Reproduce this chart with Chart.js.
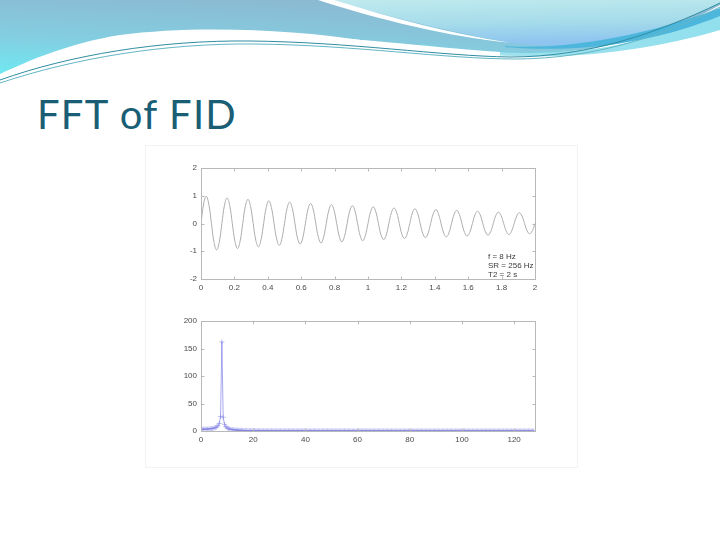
<!DOCTYPE html>
<html>
<head>
<meta charset="utf-8">
<script src="https://cdn.jsdelivr.net/npm/chart.js@4/dist/chart.umd.min.js"></script>
<style>
  html,body{margin:0;padding:0;background:#ffffff;}
  #slide{position:relative;width:720px;height:540px;overflow:hidden;background:#ffffff;}
  #title{position:absolute;left:37px;top:94px;font-family:Lato,"Open Sans",sans-serif;font-size:40px;line-height:40px;letter-spacing:1.2px;color:#195e74;white-space:nowrap;}
  #figbox{position:absolute;left:145px;top:145px;width:431px;height:321px;background:#ffffff;border:1px solid #f3f3f3;}
  canvas{position:absolute;}
</style>
</head>
<body>
<div id="slide">
  <svg width="720" height="100" style="position:absolute;left:0;top:0">
    <defs>
      <linearGradient id="gMain" x1="0" y1="1" x2="0.45" y2="0">
        <stop offset="0" stop-color="#6fe8f0"/>
        <stop offset="0.45" stop-color="#84cde0"/>
        <stop offset="1" stop-color="#8bb9d2"/>
      </linearGradient>
      <linearGradient id="gCap" x1="0" y1="0" x2="0.15" y2="1">
        <stop offset="0" stop-color="#bfeaee"/>
        <stop offset="0.55" stop-color="#a6dcea"/>
        <stop offset="1" stop-color="#8ec4ef"/>
      </linearGradient>
      <linearGradient id="gLow" x1="0" y1="0" x2="1" y2="0">
        <stop offset="0" stop-color="#7fd6e6"/>
        <stop offset="1" stop-color="#62d2e6"/>
      </linearGradient>
    </defs>
    <path d="M0,0 H720 V5 C680,28 620,48 560,52 C500,56 420,48 330,36 C260,28 180,27 120,35 C70,43 30,60 0,74 Z" fill="url(#gMain)"/>
    <path d="M420,44 C480,52 540,56 600,48 C650,40 690,24 720,12 L720,30 C680,42 620,54 560,56 C500,58 450,52 420,48 Z" fill="url(#gLow)" opacity="0.7"/>
    <path d="M0,79 C60,56 130,40 220,37 C320,35 420,50 500,55" fill="none" stroke="#ffffff" stroke-width="6"/>
    <path d="M330,0 H720 V3 C690,18 640,38 580,44 C545,47 522,45 506,42 C440,30 380,14 330,0 Z" fill="url(#gCap)"/>
    <path d="M318,0 H334 C392,18 452,34 512,43 C450,37 380,20 318,0 Z" fill="#ffffff"/>
    <path d="M505,46 C560,50 640,38 720,8 L720,16 C660,40 590,54 505,47 Z" fill="#4db6dc"/>
    <path d="M0,80 C70,55 160,40 250,41 C350,42 440,56 510,57 C590,57 660,32 720,3" fill="none" stroke="#2f8da0" stroke-width="1"/>
    <path d="M0,83 C75,58 165,43 255,44 C355,45 445,59 515,59 C595,59 665,35 720,7" fill="none" stroke="#63b6c4" stroke-width="1"/>
  </svg>
  <div id="title">FFT of FID</div>
  <div id="figbox"></div>
  <canvas id="c1" width="420" height="150" style="left:145px;top:150px;width:420px;height:150px"></canvas>
  <canvas id="c2" width="420" height="150" style="left:145px;top:305px;width:420px;height:150px"></canvas>
</div>
<script>
// ---- Data ----
// Top: decaying FID signal, sampled every 1/64 s from 0 to 2 s
const fidStepSeconds = 1 / 64;
const fidSignal = [
  0, 0.70, 0.98, 0.69, 0, -0.68, -0.95, -0.67,
  0, 0.66, 0.92, 0.65, 0, -0.64, -0.90, -0.63,
  0, 0.62, 0.87, 0.61, 0, -0.60, -0.84, -0.59,
  0, 0.58, 0.82, 0.57, 0, -0.56, -0.79, -0.55,
  0, 0.55, 0.77, 0.54, 0, -0.53, -0.74, -0.52,
  0, 0.51, 0.72, 0.51, 0, -0.50, -0.70, -0.49,
  0, 0.48, 0.68, 0.47, 0, -0.47, -0.66, -0.46,
  0, 0.45, 0.64, 0.45, 0, -0.44, -0.62, -0.43,
  0, 0.43, 0.60, 0.42, 0, -0.41, -0.58, -0.41,
  0, 0.40, 0.56, 0.39, 0, -0.39, -0.54, -0.38,
  0, 0.38, 0.53, 0.37, 0, -0.36, -0.51, -0.36,
  0, 0.35, 0.50, 0.35, 0, -0.34, -0.48, -0.34,
  0, 0.33, 0.47, 0.33, 0, -0.32, -0.45, -0.32,
  0, 0.31, 0.44, 0.31, 0, -0.30, -0.42, -0.30,
  0, 0.29, 0.41, 0.29, 0, -0.28, -0.40, -0.28,
  0, 0.27, 0.39, 0.27, 0, -0.27, -0.37, -0.26,
  0
];
// Bottom: FFT magnitude, bins every 0.5 Hz from 0 to 127.5 Hz
const fftBinHz = 0.5;
const fftMagnitude = [
  3.2, 3.2, 3.3, 3.3, 3.4, 3.6, 3.7, 4.0,
  4.3, 4.7, 5.3, 6.1, 7.4, 9.5, 13.7, 26.3,
  162, 25.0, 12.1, 7.9, 5.7, 4.5, 3.6, 3.0,
  2.6, 2.2, 2.0, 1.75, 1.57, 1.42, 1.29, 1.18,
  1.08, 1.00, 0.93, 0.86, 0.80, 0.75, 0.70, 0.66,
  0.62, 0.59, 0.56, 0.53, 0.50, 0.48, 0.46, 0.44,
  0.41, 0.40, 0.38, 0.37, 0.35, 0.34, 0.33, 0.31,
  0.30, 0.29, 0.28, 0.27, 0.26, 0.25, 0.24, 0.24,
  0.23, 0.22, 0.21, 0.21, 0.20, 0.20, 0.19, 0.19,
  0.18, 0.18, 0.17, 0.17, 0.16, 0.16, 0.15, 0.15,
  0.15, 0.14, 0.14, 0.14, 0.13, 0.13, 0.13, 0.12,
  0.12, 0.12, 0.12, 0.11, 0.11, 0.11, 0.11, 0.10,
  0.10, 0.10, 0.10, 0.10, 0.09, 0.09, 0.09, 0.09,
  0.09, 0.09, 0.08, 0.08, 0.08, 0.08, 0.08, 0.08,
  0.08, 0.08, 0.08, 0.08, 0.07, 0.07, 0.07, 0.07,
  0.07, 0.07, 0.07, 0.07, 0.07, 0.07, 0.07, 0.07,
  0.06, 0.06, 0.06, 0.06, 0.06, 0.06, 0.06, 0.06,
  0.06, 0.06, 0.06, 0.06, 0.06, 0.06, 0.06, 0.06,
  0.05, 0.05, 0.05, 0.05, 0.05, 0.05, 0.05, 0.05,
  0.05, 0.05, 0.05, 0.05, 0.05, 0.05, 0.05, 0.05,
  0.05, 0.05, 0.05, 0.05, 0.05, 0.05, 0.05, 0.05,
  0.04, 0.04, 0.04, 0.04, 0.04, 0.04, 0.04, 0.04,
  0.04, 0.04, 0.04, 0.04, 0.04, 0.04, 0.04, 0.04,
  0.04, 0.04, 0.04, 0.04, 0.04, 0.04, 0.04, 0.04,
  0.04, 0.04, 0.04, 0.04, 0.04, 0.04, 0.04, 0.04,
  0.04, 0.04, 0.04, 0.04, 0.04, 0.04, 0.04, 0.04,
  0.03, 0.03, 0.03, 0.03, 0.03, 0.03, 0.03, 0.03,
  0.03, 0.03, 0.03, 0.03, 0.03, 0.03, 0.03, 0.03,
  0.03, 0.03, 0.03, 0.03, 0.03, 0.03, 0.03, 0.03,
  0.03, 0.03, 0.03, 0.03, 0.03, 0.03, 0.03, 0.03,
  0.03, 0.03, 0.03, 0.03, 0.03, 0.03, 0.03, 0.03,
  0.03, 0.03, 0.03, 0.03, 0.03, 0.03, 0.03, 0.03
];
const fidNotes = ["f = 8 Hz", "SR = 256 Hz", "T2 = 2 s"];

// ---- Build points from the arrays ----
const fidPoints = fidSignal.map((v, i) => ({ x: i * fidStepSeconds, y: v }));
const fftPoints = fftMagnitude.map((v, i) => ({ x: i * fftBinHz, y: v }));

const tickFont = { family: "'Liberation Sans', Arial, sans-serif", size: 8 };
const tickColor = '#4a4a4a';

// Matlab-like box with inward tick marks + optional text notes
const matlabAxes = {
  id: 'matlabAxes',
  afterDatasetsDraw(chart, args, opts) {
    const { ctx, chartArea: a, scales } = chart;
    const xs = scales.x, ys = scales.y;
    ctx.save();
    ctx.strokeStyle = opts.color || '#b0b0b0';
    ctx.lineWidth = 1;
    const L = Math.round(a.left) + 0.5, R = Math.round(a.right) + 0.5;
    const T = Math.round(a.top) + 0.5, B = Math.round(a.bottom) + 0.5;
    ctx.strokeRect(L, T, R - L, B - T);
    const len = 3;
    ctx.beginPath();
    xs.ticks.forEach(t => {
      const p = Math.round(xs.getPixelForValue(t.value)) + 0.5;
      ctx.moveTo(p, B); ctx.lineTo(p, B - len);
      ctx.moveTo(p, T); ctx.lineTo(p, T + len);
    });
    ys.ticks.forEach(t => {
      const p = Math.round(ys.getPixelForValue(t.value)) + 0.5;
      ctx.moveTo(L, p); ctx.lineTo(L + len, p);
      ctx.moveTo(R, p); ctx.lineTo(R - len, p);
    });
    ctx.stroke();
    if (opts.notes) {
      ctx.fillStyle = '#3a3a3a';
      ctx.font = "8px 'Liberation Sans', Arial, sans-serif";
      ctx.textBaseline = 'middle';
      ctx.textAlign = 'left';
      opts.notes.forEach((s, i) => {
        ctx.fillText(s, a.left + 287, a.top + 89 + i * 9);
      });
    }
    ctx.restore();
  }
};

function baseOptions(xMin, xMax, xStep, yMin, yMax, yStep, xHeight, padTop, notes) {
  return {
    responsive: false,
    animation: false,
    devicePixelRatio: 1,
    layout: { padding: { left: 0, right: 30, top: padTop, bottom: 0 } },
    plugins: {
      legend: { display: false },
      tooltip: { enabled: false },
      matlabAxes: { color: '#b8b8b8', notes: notes }
    },
    scales: {
      x: {
        type: 'linear', min: xMin, max: xMax,
        grid: { display: false, drawTicks: false },
        border: { display: false },
        ticks: {
          stepSize: xStep, includeBounds: false, autoSkip: false, maxRotation: 0,
          padding: 4, font: tickFont, color: tickColor,
          callback: v => String(Number(v.toFixed(2)))
        },
        afterFit: s => { s.height = xHeight; }
      },
      y: {
        type: 'linear', min: yMin, max: yMax,
        grid: { display: false, drawTicks: false },
        border: { display: false },
        ticks: {
          stepSize: yStep, autoSkip: false, padding: 4, font: tickFont, color: tickColor,
          callback: v => String(v)
        },
        afterFit: s => { s.width = 56; }
      }
    }
  };
}

new Chart(document.getElementById('c1'), {
  type: 'line',
  data: {
    datasets: [{
      data: fidPoints,
      borderColor: '#adadad',
      borderWidth: 1,
      pointRadius: 0,
      tension: 0.42,
      fill: false
    }]
  },
  options: baseOptions(0, 2, 0.2, -2, 2, 1, 21, 18, fidNotes),
  plugins: [matlabAxes]
});

new Chart(document.getElementById('c2'), {
  type: 'line',
  data: {
    datasets: [{
      data: fftPoints,
      borderColor: 'rgba(110, 110, 230, 0.6)',
      borderWidth: 1,
      pointStyle: 'cross',
      pointRadius: 2.5,
      pointBorderWidth: 1,
      pointBorderColor: 'rgba(130, 130, 230, 0.5)',
      pointBackgroundColor: 'rgba(0,0,0,0)',
      tension: 0,
      fill: false
    }]
  },
  options: baseOptions(0, 128, 20, 0, 200, 50, 24, 16, null),
  plugins: [matlabAxes]
});
</script>
</body>
</html>
